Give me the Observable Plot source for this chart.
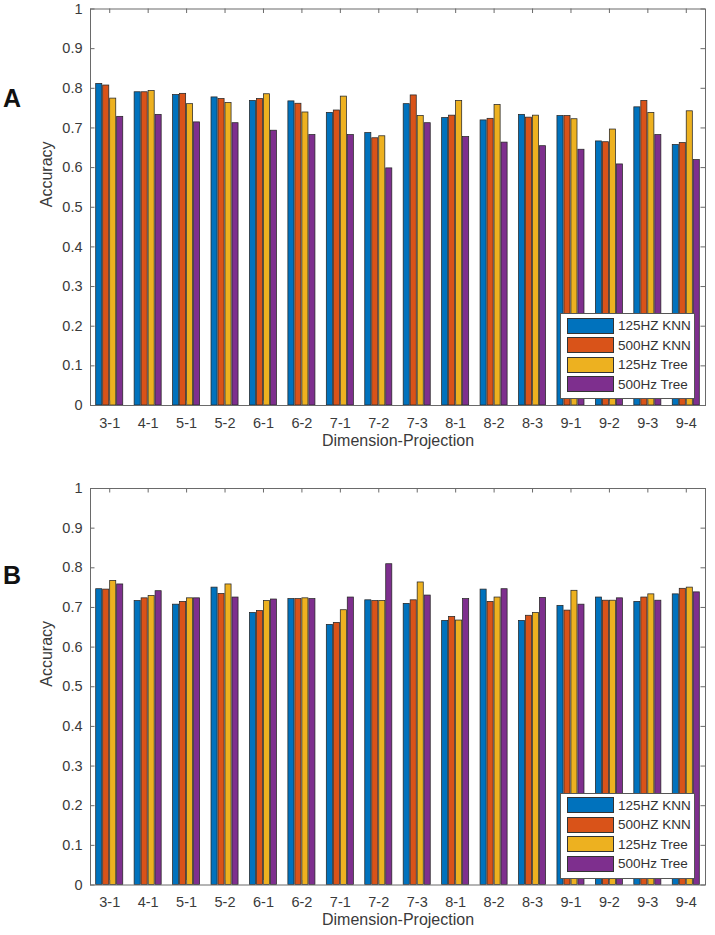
<!DOCTYPE html>
<html>
<head>
<meta charset="utf-8">
<script src="https://cdn.jsdelivr.net/npm/d3@7"></script>
<script src="https://cdn.jsdelivr.net/npm/@observablehq/plot@0.6"></script>
<style>
  body { margin: 0; background: #fff; font-family: "Liberation Sans", Arial, sans-serif; }
  #wrap { position: relative; width: 715px; height: 935px; }
  .panel { position: absolute; left: 0; width: 715px; }
  .tag { position: absolute; left: 3px; font-weight: bold; font-size: 25px; color: #111; line-height: 1; }
  .legend { position: absolute; background: #fff; border: 1px solid #555; box-sizing: border-box; padding: 2px 0 0 6px; }
  .legend .row { display: flex; align-items: center; height: 19.5px; }
  .legend .sw { width: 45px; height: 14px; border: 1px solid #333; margin-right: 4px; }
  .legend .lb { font-size: 13.5px; color: #333; white-space: nowrap; }
</style>
</head>
<body>
<div id="wrap"></div>
<script>
// Dimension-projection combinations on the x axis
const categories = ["3-1","4-1","5-1","5-2","6-1","6-2","7-1","7-2","7-3","8-1","8-2","8-3","9-1","9-2","9-3","9-4"];
const seriesNames = ["125HZ KNN","500HZ KNN","125Hz Tree","500Hz Tree"];
const seriesColors = ["#0072BD","#D95319","#EDB120","#7E2F8E"];
const yTicks = [0,0.1,0.2,0.3,0.4,0.5,0.6,0.7,0.8,0.9,1];
const xLabel = "Dimension-Projection";
const yLabel = "Accuracy";

// Panel A accuracies
const knn125A  = [0.811,0.790,0.783,0.777,0.768,0.767,0.738,0.687,0.760,0.725,0.719,0.733,0.730,0.666,0.752,0.657];
const knn500A  = [0.807,0.790,0.786,0.773,0.773,0.761,0.744,0.674,0.782,0.731,0.723,0.726,0.730,0.664,0.768,0.662];
const tree125A = [0.774,0.793,0.760,0.763,0.785,0.739,0.779,0.679,0.730,0.768,0.758,0.731,0.722,0.696,0.738,0.742];
const tree500A = [0.728,0.733,0.714,0.712,0.693,0.682,0.682,0.598,0.712,0.677,0.663,0.654,0.645,0.608,0.682,0.619];

// Panel B accuracies
const knn125B  = [0.746,0.716,0.707,0.750,0.686,0.721,0.656,0.718,0.709,0.666,0.745,0.666,0.704,0.725,0.714,0.733];
const knn500B  = [0.745,0.723,0.714,0.734,0.691,0.721,0.661,0.716,0.718,0.676,0.714,0.679,0.692,0.717,0.725,0.747];
const tree125B = [0.767,0.729,0.723,0.758,0.716,0.723,0.693,0.716,0.763,0.667,0.725,0.686,0.742,0.717,0.733,0.750];
const tree500B = [0.758,0.741,0.723,0.725,0.720,0.721,0.725,0.809,0.730,0.721,0.746,0.724,0.707,0.723,0.717,0.738];

const GROUP = 0.727;               // grouped-bar span within one category unit
const SLOT = GROUP / seriesNames.length;
const xPos = categories.map((c, i) => i + 1);

function toRows(series) {
  const rows = [];
  categories.forEach((cat, i) => {
    series.forEach((vals, s) => {
      const x1 = i + 1 - GROUP / 2 + s * SLOT;
      rows.push({cat, series: seriesNames[s], value: vals[i], x1, x2: x1 + SLOT});
    });
  });
  return rows;
}

function panel(series, opts) {
  const rows = toRows(series);
  const plotH = opts.height - opts.marginTop - opts.marginBottom;
  const plotW = 715 - 90 - 10;
  const tx = 4.5 / (plotW / 16);   // inward tick length in x units
  const ty = 4.5 / plotH;          // inward tick length in y units
  const axisColor = "#6a6a6a";
  return Plot.plot({
    width: 715,
    height: opts.height,
    marginLeft: 90,
    marginRight: 10,
    marginTop: opts.marginTop,
    marginBottom: opts.marginBottom,
    style: {fontFamily: '"Liberation Sans", Arial, sans-serif', color: "#3a3a3a", background: "#fff"},
    x: {domain: [0.5, 16.5], axis: null},
    y: {domain: [0, 1], axis: null},
    color: {domain: seriesNames, range: seriesColors},
    marks: [
      Plot.rectY(rows, {x1: "x1", x2: "x2", y: "value", fill: "series",
        stroke: "#262626", strokeWidth: 0.75, insetLeft: 0.45, insetRight: 0.45}),
      Plot.frame({stroke: axisColor, strokeWidth: 1}),
      // inward tick marks on all four sides
      Plot.ruleY(yTicks, {y: d => d, x1: 0.5, x2: 0.5 + tx, stroke: axisColor}),
      Plot.ruleY(yTicks, {y: d => d, x1: 16.5 - tx, x2: 16.5, stroke: axisColor}),
      Plot.ruleX(xPos, {x: d => d, y1: 0, y2: ty, stroke: axisColor}),
      Plot.ruleX(xPos, {x: d => d, y1: 1 - ty, y2: 1, stroke: axisColor}),
      Plot.axisY(yTicks, {tickSize: 0, tickPadding: 8, fontSize: 14.5, label: null,
        tickFormat: d => (d === 0 || d === 1) ? String(d) : d.toFixed(1)}),
      Plot.axisX(xPos, {tickSize: 0, tickPadding: 12, fontSize: 14.5, label: null,
        tickFormat: d => categories[d - 1]}),
      Plot.text([xLabel], {text: d => d, frameAnchor: "bottom", dy: 40, fontSize: 16, fill: "#3a3a3a"}),
      Plot.text([yLabel], {text: d => d, frameAnchor: "left", dx: -44, rotate: -90, fontSize: 16, fill: "#3a3a3a"})
    ]
  });
}

function legend(top) {
  const el = document.createElement("div");
  el.className = "legend";
  el.style.left = "560px";
  el.style.top = top + "px";
  el.style.width = "135px";
  el.style.height = "86px";
  seriesNames.forEach((name, i) => {
    const row = document.createElement("div");
    row.className = "row";
    const sw = document.createElement("div");
    sw.className = "sw";
    sw.style.background = seriesColors[i];
    const lb = document.createElement("span");
    lb.className = "lb";
    lb.textContent = name;
    row.append(sw, lb);
    el.append(row);
  });
  return el;
}

const wrap = document.getElementById("wrap");

const panels = [
  {tag: "A", top: 0, height: 467, marginTop: 8.5, marginBottom: 62, data: [knn125A, knn500A, tree125A, tree500A], tagTop: 86},
  {tag: "B", top: 467, height: 468, marginTop: 21, marginBottom: 50.5, data: [knn125B, knn500B, tree125B, tree500B], tagTop: 563}
];

panels.forEach(p => {
  const box = document.createElement("div");
  box.className = "panel";
  box.style.top = p.top + "px";
  box.append(panel(p.data, p));
  wrap.append(box);
  const axisBottom = p.top + p.height - p.marginBottom;
  wrap.append(legend(axisBottom - 92));
  const tag = document.createElement("div");
  tag.className = "tag";
  tag.style.top = p.tagTop + "px";
  tag.textContent = p.tag;
  wrap.append(tag);
});
</script>
</body>
</html>
